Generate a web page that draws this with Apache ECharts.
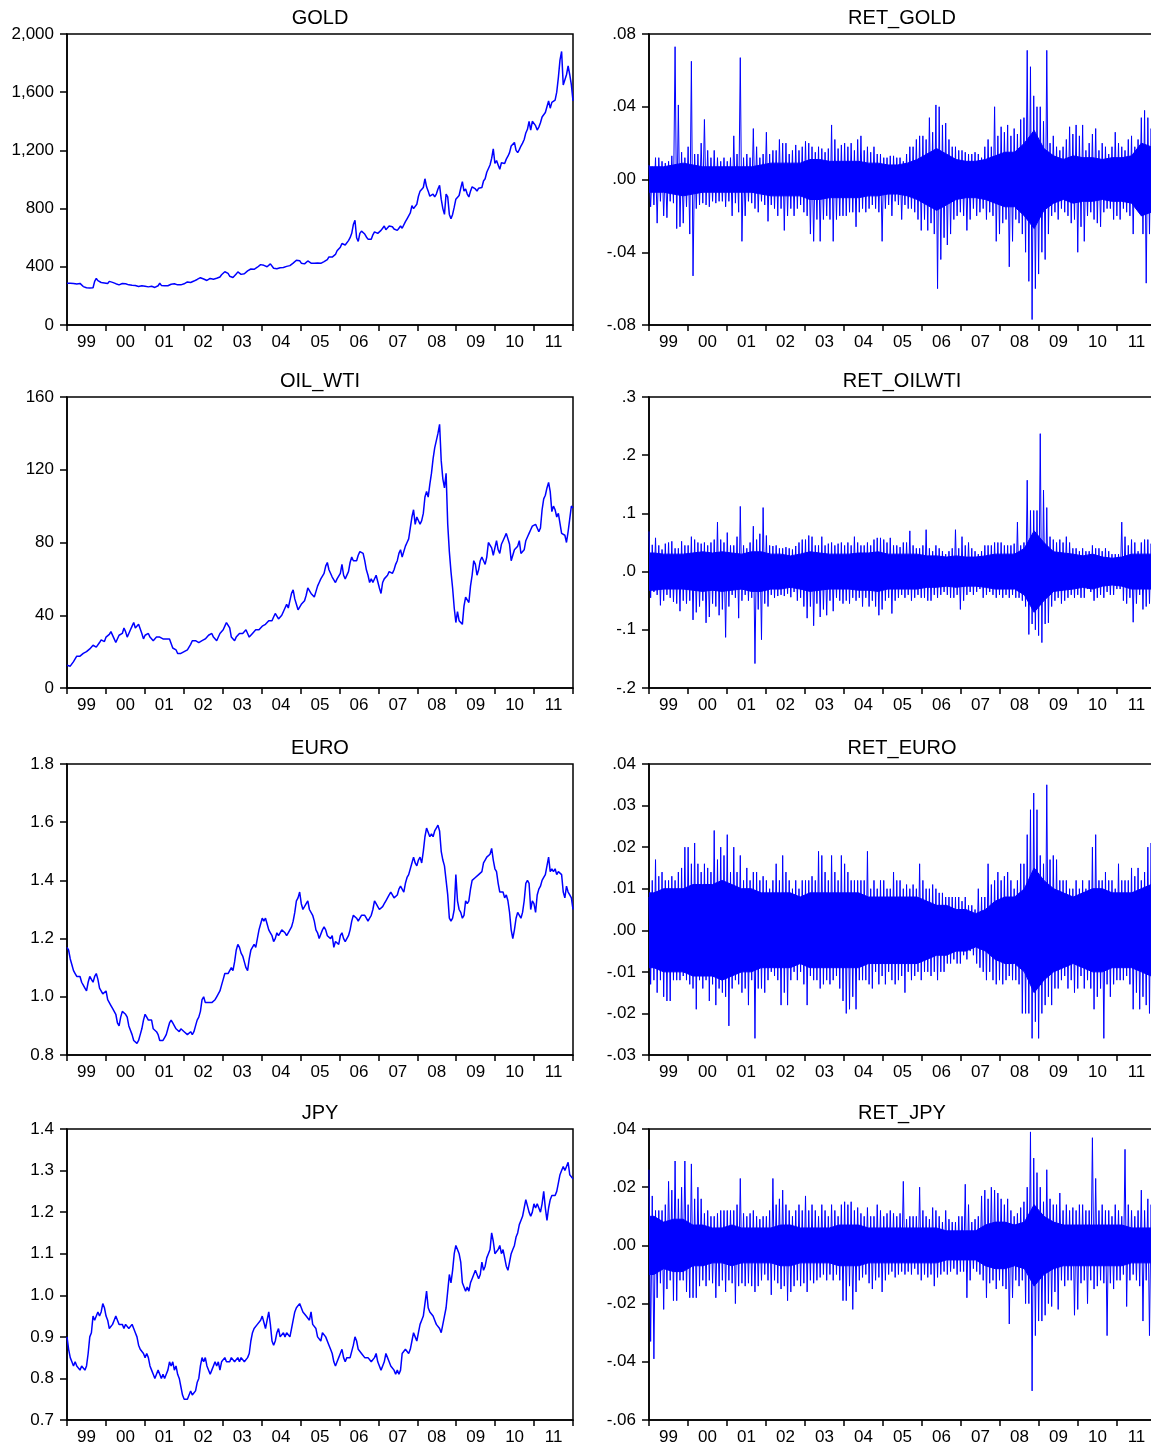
<!DOCTYPE html>
<html>
<head>
<meta charset="utf-8">
<script src="https://cdn.jsdelivr.net/npm/echarts@6/dist/echarts.min.js"></script>
<style>
html, body { margin: 0; padding: 0; background: #fff; }
#chart { width: 1151px; height: 1449px; }
</style>
</head>
<body>
<div id="chart"></div>
<script>
// year labels on the x axis
var years = ['99', '00', '01', '02', '03', '04', '05', '06', '07', '08', '09', '10', '11'];

// levels, two readings per month, Jan 1999 .. Dec 2011
var gold = [
	287,288,287,290,286,283,282,285,286,277,264,262,256,253,255,257,256,300,320,305,295,292,285,289,
	289,285,300,310,293,286,284,278,276,274,285,289,283,282,276,274,273,272,271,268,265,266,270,272,
	267,264,262,259,266,260,258,262,270,287,272,270,269,266,270,275,280,290,283,279,276,274,276,278,
	283,282,296,298,292,301,302,307,313,320,325,317,316,310,306,312,320,321,315,317,321,319,330,345,
	350,366,372,355,335,330,326,331,350,365,360,348,349,352,360,372,380,385,378,383,393,397,405,415,
	420,410,405,400,410,420,407,390,380,387,393,394,400,395,399,403,405,408,417,425,434,445,454,442,
	425,423,420,430,440,430,425,432,425,418,426,438,424,423,436,440,450,468,470,467,470,485,510,505,
	535,560,565,550,555,580,600,630,690,720,600,575,630,645,640,625,605,590,580,590,620,640,630,630,
	630,650,665,680,655,660,680,690,675,660,655,650,665,680,665,670,710,730,750,770,820,800,795,830,
	885,920,910,945,1005,950,920,885,875,900,880,900,935,960,865,800,760,900,880,760,730,760,810,865,
	860,890,940,985,920,935,900,880,920,950,960,935,920,940,950,945,990,1005,1050,1045,1100,1145,1210,1110,
	1130,1100,1070,1115,1120,1110,1140,1160,1185,1230,1220,1255,1200,1185,1205,1230,1250,1275,1320,1345,1400,1340,1400,1405,
	1370,1340,1360,1390,1430,1420,1460,1500,1540,1490,1530,1530,1545,1600,1700,1820,1880,1650,1660,1720,1780,1720,1650,1540
];
var oilWti = [
	12.5,12,12,12.5,14.5,16,17.5,18,17.5,18.5,19,20,20,20.5,21.5,22,23.5,24.5,22.5,22,25,26.5,26,25.5,
	28,29,29.5,31,32,27,25,26,29,29,30,33,31,28,30,32,34,36,33,34,35,34,30,27,
	29,30,30,28,27,26,27,28,29,28,27,27,26,27,28,27,27,22,22,21,19,18,19,20,
	20,19,21,21,24,26,26,26,27,25,26,26,27,27,28,29,29,30,28,27,26,27,30,31,
	32,34,36,37,33,28,28,26,28,29,30,31,30,31,32,30,28,29,30,29,32,32,32,33,
	34,35,35,36,37,37,37,39,41,40,38,37,40,41,44,46,44,48,52,54,49,46,43,42,
	46,47,48,51,55,56,52,51,50,53,56,58,60,59,63,67,69,65,64,61,62,58,60,60,
	63,68,62,60,61,64,69,72,70,71,70,73,75,76,74,70,65,62,58,60,58,59,62,61,
	55,52,58,60,59,62,64,64,63,65,68,70,74,76,72,71,78,80,82,88,94,98,90,94,
	95,90,92,96,105,108,105,112,118,126,132,136,140,145,125,115,110,118,90,75,64,55,44,36,
	42,37,38,35,45,50,50,47,56,62,70,68,62,65,70,72,70,68,72,80,79,77,73,77,
	81,76,74,79,81,82,85,84,79,70,73,76,76,78,81,74,75,76,81,83,85,87,89,90,
	90,88,86,88,98,104,106,110,113,108,97,100,98,94,96,97,85,86,84,80,86,93,100,99
];
var euro = [
	1.17,1.16,1.13,1.11,1.09,1.08,1.07,1.07,1.07,1.05,1.04,1.03,1.02,1.05,1.07,1.06,1.05,1.07,1.08,1.06,1.03,1.03,1.01,1.01,
	1.02,0.99,0.98,0.97,0.96,0.96,0.94,0.91,0.90,0.93,0.95,0.95,0.94,0.93,0.90,0.90,0.87,0.85,0.85,0.84,0.85,0.87,0.89,0.92,
	0.94,0.93,0.92,0.92,0.92,0.89,0.89,0.88,0.87,0.85,0.85,0.85,0.86,0.87,0.89,0.91,0.92,0.91,0.90,0.89,0.89,0.88,0.89,0.89,
	0.88,0.88,0.87,0.87,0.88,0.87,0.88,0.90,0.92,0.93,0.95,0.99,1.00,0.98,0.98,0.98,0.98,0.98,0.98,0.99,1.00,1.00,1.02,1.04,
	1.06,1.08,1.08,1.08,1.08,1.10,1.09,1.12,1.16,1.18,1.17,1.15,1.14,1.12,1.10,1.09,1.13,1.16,1.16,1.18,1.17,1.20,1.23,1.25,
	1.27,1.26,1.27,1.25,1.23,1.22,1.21,1.19,1.20,1.22,1.21,1.22,1.23,1.23,1.22,1.21,1.22,1.23,1.24,1.26,1.29,1.33,1.34,1.36,
	1.32,1.30,1.30,1.32,1.33,1.30,1.30,1.28,1.26,1.23,1.22,1.20,1.20,1.23,1.24,1.23,1.21,1.21,1.20,1.21,1.17,1.19,1.19,1.18,
	1.21,1.22,1.20,1.19,1.20,1.21,1.23,1.26,1.28,1.28,1.27,1.26,1.27,1.28,1.28,1.28,1.27,1.26,1.27,1.28,1.30,1.33,1.32,1.31,
	1.30,1.30,1.31,1.32,1.33,1.34,1.35,1.36,1.35,1.34,1.34,1.35,1.37,1.38,1.37,1.36,1.39,1.41,1.42,1.42,1.46,1.48,1.46,1.45,
	1.47,1.48,1.46,1.50,1.55,1.58,1.58,1.55,1.56,1.55,1.57,1.58,1.59,1.57,1.50,1.47,1.45,1.40,1.35,1.27,1.26,1.27,1.30,1.42,
	1.33,1.30,1.29,1.27,1.28,1.33,1.32,1.33,1.37,1.40,1.40,1.41,1.41,1.42,1.42,1.43,1.46,1.47,1.48,1.48,1.49,1.51,1.47,1.44,
	1.43,1.39,1.36,1.36,1.36,1.34,1.35,1.33,1.29,1.23,1.20,1.23,1.27,1.29,1.29,1.27,1.29,1.33,1.39,1.40,1.39,1.30,1.33,1.32,
	1.29,1.35,1.37,1.38,1.40,1.41,1.42,1.45,1.48,1.43,1.44,1.43,1.44,1.42,1.43,1.43,1.42,1.36,1.34,1.38,1.36,1.35,1.34,1.30
];
var jpy = [
	0.90,0.87,0.85,0.84,0.83,0.84,0.83,0.83,0.82,0.83,0.83,0.82,0.83,0.86,0.90,0.91,0.95,0.94,0.95,0.96,0.95,0.96,0.98,0.97,
	0.95,0.94,0.92,0.92,0.93,0.94,0.95,0.94,0.93,0.93,0.93,0.92,0.93,0.93,0.92,0.92,0.93,0.92,0.91,0.90,0.88,0.87,0.87,0.86,
	0.85,0.86,0.85,0.83,0.82,0.81,0.80,0.81,0.82,0.81,0.80,0.81,0.80,0.81,0.82,0.84,0.83,0.84,0.82,0.83,0.81,0.80,0.78,0.76,
	0.75,0.75,0.75,0.75,0.77,0.76,0.76,0.77,0.79,0.80,0.83,0.85,0.84,0.85,0.83,0.83,0.81,0.82,0.83,0.84,0.83,0.84,0.82,0.84,
	0.84,0.85,0.84,0.84,0.84,0.85,0.85,0.84,0.84,0.85,0.84,0.85,0.85,0.84,0.84,0.85,0.86,0.89,0.91,0.92,0.92,0.93,0.93,0.94,
	0.95,0.95,0.92,0.94,0.96,0.93,0.89,0.88,0.89,0.91,0.92,0.90,0.90,0.91,0.90,0.91,0.91,0.90,0.92,0.94,0.96,0.97,0.97,0.98,
	0.97,0.96,0.96,0.95,0.95,0.94,0.96,0.93,0.93,0.92,0.90,0.90,0.89,0.91,0.91,0.90,0.90,0.88,0.87,0.86,0.84,0.83,0.84,0.85,
	0.86,0.87,0.85,0.84,0.85,0.85,0.85,0.85,0.88,0.90,0.89,0.87,0.87,0.86,0.86,0.85,0.85,0.85,0.85,0.84,0.84,0.85,0.86,0.84,
	0.83,0.82,0.83,0.84,0.86,0.85,0.84,0.83,0.83,0.82,0.81,0.82,0.81,0.82,0.86,0.86,0.87,0.87,0.86,0.87,0.89,0.91,0.90,0.89,
	0.91,0.93,0.94,0.95,0.98,1.01,0.97,0.96,0.96,0.95,0.94,0.93,0.93,0.92,0.91,0.93,0.95,0.97,1.01,1.05,1.03,1.06,1.10,1.12,
	1.11,1.10,1.08,1.03,1.02,1.01,1.02,1.01,1.03,1.04,1.04,1.06,1.05,1.04,1.05,1.08,1.06,1.07,1.09,1.10,1.11,1.15,1.13,1.10,
	1.10,1.11,1.12,1.10,1.11,1.09,1.07,1.06,1.08,1.10,1.11,1.12,1.14,1.15,1.17,1.18,1.19,1.21,1.23,1.23,1.20,1.19,1.20,1.22,
	1.21,1.22,1.21,1.20,1.22,1.25,1.21,1.18,1.21,1.23,1.24,1.24,1.24,1.25,1.27,1.29,1.30,1.31,1.30,1.31,1.32,1.29,1.29,1.28
];

// returns: monthly highest and lowest daily value, Jan 1999 .. Dec 2011
var retGoldHi = [
	.008,.007,.012,.012,.010,.009,.010,.013,.073,.041,.015,.012,
	.018,.065,.014,.014,.020,.033,.016,.012,.016,.012,.010,.012,
	.010,.012,.024,.014,.067,.012,.014,.012,.028,.018,.012,.014,
	.026,.014,.016,.016,.022,.020,.020,.014,.016,.019,.016,.018,
	.021,.020,.018,.015,.018,.017,.015,.017,.030,.022,.017,.019,
	.020,.018,.020,.016,.022,.024,.016,.018,.015,.018,.014,.014,
	.012,.012,.013,.013,.012,.012,.010,.014,.018,.018,.022,.024,
	.024,.022,.034,.026,.041,.040,.030,.031,.022,.018,.018,.016,
	.016,.015,.014,.014,.015,.014,.012,.018,.022,.018,.040,.024,
	.029,.026,.030,.024,.028,.025,.033,.034,.071,.062,.046,.040,
	.040,.032,.071,.020,.024,.018,.016,.018,.022,.029,.025,.030,
	.024,.030,.016,.020,.025,.028,.016,.020,.018,.014,.018,.026,
	.020,.018,.016,.022,.024,.018,.022,.034,.038,.034,.028,.024
];
var retGoldLo = [
	-.015,-.014,-.024,-.012,-.020,-.021,-.012,-.013,-.027,-.026,-.024,-.015,
	-.030,-.053,-.016,-.014,-.013,-.014,-.015,-.012,-.013,-.012,-.012,-.015,
	-.012,-.020,-.013,-.018,-.034,-.020,-.012,-.013,-.016,-.018,-.012,-.014,
	-.023,-.014,-.016,-.020,-.016,-.028,-.020,-.016,-.020,-.016,-.014,-.018,
	-.020,-.030,-.034,-.022,-.034,-.022,-.020,-.022,-.034,-.022,-.020,-.020,
	-.020,-.018,-.018,-.026,-.018,-.016,-.018,-.016,-.014,-.016,-.018,-.034,
	-.016,-.014,-.020,-.012,-.014,-.022,-.014,-.016,-.016,-.018,-.022,-.028,
	-.022,-.028,-.024,-.030,-.060,-.044,-.032,-.036,-.030,-.022,-.020,-.018,
	-.020,-.028,-.022,-.016,-.020,-.018,-.016,-.022,-.018,-.020,-.034,-.030,
	-.024,-.022,-.048,-.034,-.022,-.024,-.030,-.040,-.056,-.077,-.060,-.052,
	-.040,-.044,-.030,-.020,-.018,-.022,-.016,-.018,-.020,-.024,-.022,-.040,
	-.026,-.034,-.020,-.018,-.022,-.024,-.026,-.018,-.016,-.016,-.022,-.020,
	-.022,-.016,-.018,-.020,-.030,-.016,-.018,-.030,-.057,-.030,-.032,-.035
];
var retOilHi = [
	.069,.046,.058,.045,.038,.048,.050,.052,.040,.040,.052,.045,
	.045,.060,.055,.050,.048,.050,.045,.050,.055,.085,.055,.050,
	.067,.045,.045,.060,.112,.045,.040,.050,.078,.055,.065,.110,
	.062,.045,.044,.045,.040,.040,.042,.040,.038,.044,.050,.055,
	.055,.062,.060,.045,.045,.060,.045,.048,.050,.045,.048,.050,
	.045,.050,.045,.060,.050,.045,.045,.050,.045,.055,.058,.058,
	.055,.050,.058,.045,.045,.042,.050,.050,.070,.045,.040,.040,
	.045,.072,.040,.035,.045,.040,.035,.030,.035,.040,.072,.040,
	.060,.045,.050,.040,.035,.030,.035,.045,.045,.045,.050,.050,
	.050,.045,.045,.045,.048,.085,.045,.050,.157,.105,.105,.105,
	.237,.140,.110,.060,.055,.050,.055,.050,.060,.050,.040,.040,
	.035,.040,.035,.035,.045,.040,.040,.035,.040,.035,.030,.030,
	.030,.085,.060,.045,.055,.050,.035,.050,.055,.055,.048,.045
];
var retOilLo = [
	-.045,-.035,-.040,-.058,-.050,-.040,-.045,-.052,-.055,-.068,-.050,-.055,
	-.050,-.083,-.070,-.060,-.050,-.088,-.078,-.055,-.060,-.075,-.065,-.113,
	-.060,-.040,-.045,-.080,-.050,-.040,-.050,-.045,-.158,-.065,-.117,-.055,
	-.060,-.040,-.045,-.042,-.040,-.042,-.038,-.044,-.035,-.050,-.045,-.060,
	-.080,-.060,-.093,-.055,-.078,-.065,-.075,-.050,-.068,-.045,-.050,-.055,
	-.050,-.055,-.045,-.050,-.045,-.060,-.045,-.060,-.050,-.060,-.075,-.065,
	-.050,-.045,-.072,-.050,-.045,-.040,-.045,-.040,-.050,-.045,-.040,-.045,
	-.045,-.050,-.050,-.040,-.045,-.040,-.035,-.040,-.045,-.045,-.040,-.065,
	-.050,-.040,-.035,-.040,-.035,-.030,-.045,-.040,-.035,-.040,-.045,-.040,
	-.045,-.040,-.045,-.040,-.045,-.045,-.050,-.060,-.108,-.090,-.100,-.110,
	-.122,-.090,-.088,-.060,-.050,-.045,-.055,-.050,-.045,-.040,-.045,-.040,
	-.045,-.045,-.030,-.035,-.050,-.045,-.040,-.045,-.035,-.040,-.040,-.030,
	-.030,-.050,-.055,-.045,-.087,-.055,-.040,-.065,-.060,-.055,-.040,-.035
];
var retEuroHi = [
	.008,.012,.017,.013,.014,.012,.012,.013,.012,.014,.015,.020,
	.020,.016,.021,.016,.014,.016,.015,.014,.024,.017,.020,.018,
	.023,.014,.020,.014,.018,.012,.015,.012,.014,.014,.012,.013,
	.012,.010,.012,.016,.012,.018,.014,.012,.010,.012,.010,.012,
	.012,.012,.013,.012,.019,.018,.014,.012,.018,.014,.012,.018,
	.016,.014,.012,.012,.012,.012,.012,.019,.010,.012,.010,.012,
	.012,.010,.010,.014,.012,.012,.010,.011,.010,.011,.010,.016,
	.012,.010,.010,.011,.010,.009,.009,.008,.008,.008,.008,.008,
	.007,.008,.006,.006,.005,.010,.008,.008,.016,.011,.012,.014,
	.012,.013,.014,.012,.010,.012,.016,.016,.023,.029,.033,.029,
	.018,.016,.035,.017,.018,.017,.012,.012,.012,.010,.010,.012,
	.010,.012,.010,.012,.020,.023,.012,.012,.014,.012,.012,.010,
	.016,.012,.012,.012,.015,.013,.015,.012,.014,.020,.021,.016
];
var retEuroLo = [
	-.013,-.012,-.015,-.012,-.016,-.017,-.017,-.012,-.012,-.012,-.011,-.012,
	-.013,-.014,-.019,-.012,-.014,-.012,-.017,-.013,-.018,-.014,-.015,-.016,
	-.023,-.014,-.012,-.013,-.015,-.014,-.018,-.012,-.026,-.014,-.014,-.015,
	-.012,-.010,-.011,-.012,-.018,-.015,-.018,-.012,-.010,-.012,-.010,-.013,
	-.018,-.011,-.012,-.012,-.014,-.013,-.012,-.013,-.012,-.011,-.014,-.017,
	-.020,-.019,-.016,-.019,-.012,-.012,-.012,-.013,-.014,-.010,-.013,-.011,
	-.013,-.010,-.012,-.013,-.012,-.011,-.015,-.010,-.012,-.011,-.010,-.012,
	-.010,-.010,-.011,-.010,-.012,-.010,-.010,-.008,-.008,-.007,-.008,-.008,
	-.006,-.007,-.005,-.006,-.008,-.009,-.010,-.012,-.010,-.012,-.013,-.012,
	-.013,-.012,-.011,-.012,-.012,-.013,-.020,-.020,-.020,-.026,-.022,-.026,
	-.020,-.018,-.016,-.018,-.014,-.014,-.012,-.011,-.014,-.012,-.015,-.014,
	-.011,-.014,-.012,-.014,-.019,-.016,-.014,-.026,-.013,-.016,-.013,-.012,
	-.012,-.012,-.011,-.013,-.019,-.015,-.019,-.016,-.018,-.020,-.021,-.020
];
var retJpyHi = [
	.026,.017,.012,.012,.012,.014,.022,.019,.029,.016,.020,.029,
	.014,.028,.016,.020,.016,.011,.012,.010,.010,.011,.012,.012,
	.012,.012,.012,.014,.023,.011,.010,.011,.012,.010,.009,.010,
	.010,.012,.023,.014,.016,.019,.014,.012,.010,.012,.014,.012,
	.017,.012,.014,.012,.010,.014,.012,.010,.014,.012,.010,.014,
	.015,.014,.015,.012,.013,.011,.010,.013,.010,.010,.014,.012,
	.010,.011,.012,.011,.010,.011,.022,.009,.010,.010,.010,.020,
	.012,.010,.009,.013,.012,.010,.008,.012,.009,.008,.008,.010,
	.010,.021,.014,.008,.009,.010,.017,.019,.016,.020,.019,.018,
	.016,.014,.016,.012,.010,.011,.013,.015,.020,.039,.030,.025,
	.020,.015,.026,.016,.014,.014,.018,.012,.014,.012,.013,.012,
	.014,.014,.012,.012,.037,.023,.012,.014,.012,.012,.010,.014,
	.012,.010,.033,.014,.012,.010,.012,.019,.012,.016,.014,.012
];
var retJpyLo = [
	-.033,-.039,-.018,-.013,-.022,-.015,-.012,-.019,-.019,-.012,-.012,-.016,
	-.018,-.018,-.018,-.014,-.012,-.014,-.012,-.013,-.018,-.014,-.012,-.016,
	-.012,-.013,-.020,-.014,-.013,-.014,-.013,-.014,-.016,-.014,-.012,-.010,
	-.012,-.017,-.012,-.013,-.015,-.014,-.019,-.016,-.014,-.012,-.014,-.013,
	-.016,-.012,-.013,-.012,-.011,-.010,-.012,-.010,-.012,-.010,-.012,-.019,
	-.019,-.014,-.022,-.016,-.012,-.011,-.010,-.013,-.015,-.012,-.011,-.016,
	-.012,-.010,-.009,-.011,-.010,-.009,-.010,-.009,-.010,-.008,-.010,-.012,
	-.010,-.011,-.010,-.014,-.011,-.010,-.009,-.010,-.009,-.008,-.010,-.009,
	-.009,-.018,-.012,-.008,-.009,-.010,-.012,-.018,-.013,-.012,-.015,-.012,
	-.014,-.015,-.027,-.018,-.012,-.014,-.012,-.020,-.020,-.050,-.031,-.026,
	-.026,-.024,-.020,-.021,-.016,-.022,-.012,-.014,-.012,-.012,-.024,-.022,
	-.013,-.012,-.020,-.012,-.015,-.014,-.012,-.013,-.031,-.013,-.015,-.012,
	-.012,-.010,-.021,-.012,-.010,-.012,-.014,-.026,-.012,-.031,-.016,-.014
];

// returns: half-width of the dense core of the band, one per quarter
var coreGold = [
	.007,.007,.008,.009, .008,.007,.007,.007, .007,.007,.007,.008, .009,.009,.009,.009,
	.011,.011,.010,.010, .010,.010,.009,.009, .008,.008,.009,.011, .014,.017,.014,.011,
	.010,.010,.011,.013, .015,.015,.020,.027, .017,.013,.011,.013, .012,.012,.011,.012,
	.012,.013,.020,.018
];
var coreOil = [
	.032,.030,.030,.030, .032,.034,.032,.034, .032,.030,.034,.034, .030,.030,.027,.030,
	.034,.032,.030,.030, .030,.032,.032,.034, .030,.030,.030,.030, .027,.027,.025,.027,
	.025,.025,.027,.030, .030,.030,.040,.070, .050,.034,.032,.030, .027,.030,.025,.023,
	.025,.030,.030,.030
];
var coreEuro = [
	.009,.010,.010,.010, .011,.011,.011,.012, .011,.010,.010,.009, .009,.009,.009,.008,
	.009,.009,.009,.009, .009,.009,.008,.008, .008,.008,.008,.008, .007,.006,.006,.005,
	.005,.004,.005,.007, .008,.008,.010,.015, .012,.010,.009,.008, .009,.010,.010,.009,
	.009,.009,.010,.011
];
var coreJpy = [
	.010,.008,.009,.009, .007,.007,.006,.006, .007,.006,.006,.006, .006,.007,.007,.006,
	.006,.006,.006,.007, .007,.007,.006,.006, .006,.006,.006,.006, .006,.006,.005,.005,
	.005,.005,.007,.008, .008,.007,.008,.014, .010,.008,.007,.007, .007,.007,.007,.007,
	.007,.006,.006,.006
];

!function(){
	var dom = document.getElementById('chart');
	var myChart = echarts.init(dom, null, {renderer: 'canvas'});
	var FONT = '"Liberation Sans", Arial, Helvetica, sans-serif';
	var BLUE = '#0000ff';
	var SPAN = years.length;

	// spread the readings over the 13 years of the axis
	function levelPoints(arr) {
		var pts = [];
		for (var i = 0; i < arr.length; i++) {
			pts.push([i * SPAN / (arr.length - 1), arr[i]]);
		}
		return pts;
	}
	// alternate high / low so the trace draws the spikes of the daily series
	function returnPoints(hi, lo) {
		var pts = [];
		var n = hi.length * 2;
		for (var i = 0; i < hi.length; i++) {
			pts.push([(2 * i) * SPAN / (n - 1), hi[i]]);
			pts.push([(2 * i + 1) * SPAN / (n - 1), lo[i]]);
		}
		return pts;
	}
	// quarter centres for the dense core
	function corePoints(arr, sign) {
		var pts = [[0, sign * arr[0]]];
		for (var i = 0; i < arr.length; i++) {
			pts.push([(i + 0.5) * SPAN / arr.length, sign * arr[i]]);
		}
		pts.push([SPAN, sign * arr[arr.length - 1]]);
		return pts;
	}

	function comma(v) {
		return String(Math.round(v)).replace(/\B(?=(\d{3})+(?!\d))/g, ',');
	}
	function dec(d) {
		return function (v) { return v.toFixed(d); };
	}
	function ret(d) {
		return function (v) {
			if (Math.abs(v) < 1e-9) v = 0;
			return v.toFixed(d).replace(/^(-?)0\./, '$1.');
		};
	}

	var panels = [
		{name: 'GOLD',       col: 0, row: 0, data: levelPoints(gold),   min: 0,    max: 2000, step: 400,  fmt: comma},
		{name: 'RET_GOLD',   col: 1, row: 0, data: returnPoints(retGoldHi, retGoldLo), core: coreGold, min: -0.08, max: 0.08, step: 0.04, fmt: ret(2)},
		{name: 'OIL_WTI',    col: 0, row: 1, data: levelPoints(oilWti), min: 0,    max: 160,  step: 40,   fmt: dec(0)},
		{name: 'RET_OILWTI', col: 1, row: 1, data: returnPoints(retOilHi, retOilLo), core: coreOil, min: -0.2, max: 0.3, step: 0.1, fmt: ret(1)},
		{name: 'EURO',       col: 0, row: 2, data: levelPoints(euro),   min: 0.8,  max: 1.8,  step: 0.2,  fmt: dec(1)},
		{name: 'RET_EURO',   col: 1, row: 2, data: returnPoints(retEuroHi, retEuroLo), core: coreEuro, min: -0.03, max: 0.04, step: 0.01, fmt: ret(2)},
		{name: 'JPY',        col: 0, row: 3, data: levelPoints(jpy),    min: 0.7,  max: 1.4,  step: 0.1,  fmt: dec(1)},
		{name: 'RET_JPY',    col: 1, row: 3, data: returnPoints(retJpyHi, retJpyLo), core: coreJpy, min: -0.06, max: 0.04, step: 0.02, fmt: ret(2)}
	];

	var lefts = [67, 649];
	var widths = [506, 507];
	var tops = [34, 397, 764, 1129];
	var H = 291;

	var grid = [], xAxis = [], yAxis = [], series = [], title = [];
	var black = {color: '#000', width: 1.5};

	panels.forEach(function (p, k) {
		var left = lefts[p.col], top = tops[p.row];
		grid.push({
			left: left, width: widths[p.col], top: top, height: H,
			outerBoundsMode: 'none',
			show: true, borderColor: '#000', borderWidth: 1.5, backgroundColor: 'transparent'
		});
		title.push({
			text: p.name,
			left: left + 253,
			top: top - 26,
			padding: 0,
			textAlign: 'center',
			textStyle: {fontFamily: FONT, fontSize: 20, fontWeight: 'normal', color: '#000'}
		});
		// hidden numeric axis carrying the data
		xAxis.push({gridIndex: k, type: 'value', position: 'bottom', min: 0, max: SPAN, show: false});
		// year axis: ticks at year ends, labels in the middle of each year
		xAxis.push({
			gridIndex: k, type: 'category', position: 'bottom', data: years, boundaryGap: true,
			axisLine: {show: true, onZero: false, lineStyle: black},
			axisTick: {show: true, inside: false, length: 6, lineStyle: black},
			axisLabel: {fontFamily: FONT, fontSize: 17, color: '#000', margin: 9},
			splitLine: {show: false}
		});
		yAxis.push({
			gridIndex: k, type: 'value', min: p.min, max: p.max, interval: p.step,
			axisLine: {show: true, onZero: false, lineStyle: black},
			axisTick: {show: true, inside: false, length: 7, lineStyle: black},
			axisLabel: {fontFamily: FONT, fontSize: 17, color: '#000', margin: 13, formatter: p.fmt},
			splitLine: {show: false}
		});
		if (p.core) {
			// upper half reaches a little below zero so the two halves overlap
			var overlap = (p.max - p.min) * 0.01;
			[1, -1].forEach(function (sign) {
				series.push({
					type: 'line', xAxisIndex: 2 * k, yAxisIndex: k,
					data: corePoints(p.core, sign), showSymbol: false, symbol: 'none',
					lineStyle: {color: BLUE, width: 1},
					areaStyle: {color: BLUE, opacity: 1, origin: sign > 0 ? -overlap : overlap},
					silent: true, animation: false
				});
			});
		}
		series.push({
			name: p.name, type: 'line', xAxisIndex: 2 * k, yAxisIndex: k,
			data: p.data, showSymbol: false, symbol: 'none',
			lineStyle: {color: BLUE, width: p.core ? 1 : 1.5},
			itemStyle: {color: BLUE},
			clip: true, silent: true, animation: false
		});
	});

	var option = {
		backgroundColor: '#fff',
		animation: false,
		title: title,
		grid: grid,
		xAxis: xAxis,
		yAxis: yAxis,
		series: series
	};
	myChart.setOption(option, true);
}();
</script>
</body>
</html>
